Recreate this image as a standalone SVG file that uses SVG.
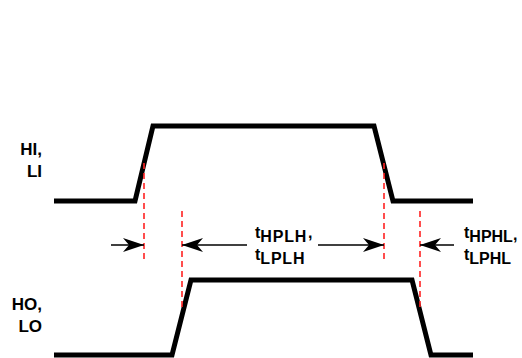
<svg xmlns="http://www.w3.org/2000/svg" width="522" height="358" viewBox="0 0 522 358">
<style>
.wave{fill:none;stroke:#000;stroke-width:5;stroke-linejoin:miter}
.dash{stroke:#f22;stroke-width:1.6;stroke-dasharray:6,4;fill:none}
.arr{stroke:#000;stroke-width:1.6;fill:none}
.lbl{font-family:"Liberation Sans",Arial,sans-serif;font-weight:bold;font-size:16px;fill:#000}
.sig{font-size:17px}
</style>
<defs>
<marker id="ah" markerUnits="userSpaceOnUse" markerWidth="24" markerHeight="16" viewBox="-22 -8 24 16" refX="0" refY="0" orient="auto">
<path d="M0,0 L-21,-7 L-15,0 L-21,7 Z" fill="#000"/>
</marker>
</defs>
<rect width="522" height="358" fill="#fff"/>
<g id="input-wave">
<path class="wave" d="M54,201 H135 L153,126 H374 L393,201 H473"/>
<text class="lbl sig" x="42" y="155" text-anchor="end">HI,</text>
<text class="lbl sig" x="42" y="177" text-anchor="end">LI</text>
</g>
<g id="output-wave">
<path class="wave" d="M54,355 H172 L191,280 H412 L431,355 H473"/>
<text class="lbl sig" x="42" y="310" text-anchor="end">HO,</text>
<text class="lbl sig" x="42" y="332" text-anchor="end">LO</text>
</g>
<g id="markers">
<line class="dash" x1="144" y1="163" x2="144" y2="260"/>
<line class="dash" x1="182" y1="211" x2="182" y2="308"/>
<line class="dash" x1="384" y1="163" x2="384" y2="260"/>
<line class="dash" x1="420" y1="211" x2="420" y2="308"/>
</g>
<g id="connectors">
<line class="arr" x1="111" y1="245" x2="144" y2="245" marker-end="url(#ah)"/>
<line class="arr" x1="247" y1="245" x2="182" y2="245" marker-end="url(#ah)"/>
<line class="arr" x1="318" y1="245" x2="384" y2="245" marker-end="url(#ah)"/>
<line class="arr" x1="454" y1="245" x2="420" y2="245" marker-end="url(#ah)"/>
</g>
<g id="label-tPLH">
<text class="lbl" x="255" y="238">t<tspan dy="4" letter-spacing="0.8">HPLH</tspan><tspan dy="-4" dx="1">,</tspan></text>
<text class="lbl" x="255" y="260">t<tspan dy="4" letter-spacing="0.8">LPLH</tspan></text>
</g>
<g id="label-tPHL">
<text class="lbl" x="464" y="238">t<tspan dy="4">HPHL</tspan><tspan dy="-2">,</tspan></text>
<text class="lbl" x="464" y="260">t<tspan dy="4">LPHL</tspan></text>
</g>
</svg>
